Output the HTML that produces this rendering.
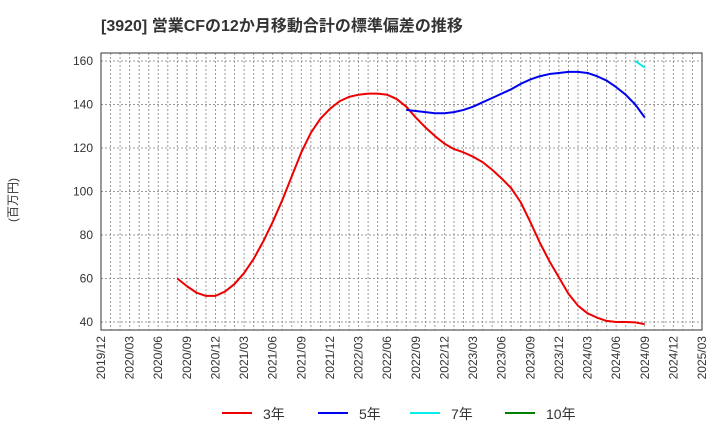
<!DOCTYPE html>
<html><head><meta charset="utf-8"><style>
body{margin:0;background:#fff;font-family:"Liberation Sans","Noto Sans CJK JP",sans-serif;}
</style></head><body>
<svg id="c" width="720" height="440" xmlns="http://www.w3.org/2000/svg">
<text x="101" y="31" font-size="16" font-weight="bold" fill="#333">[3920]  営業CFの12か月移動合計の標準偏差の推移</text>
<text transform="translate(17,200) rotate(-90)" font-size="12" fill="#333" text-anchor="middle">(百万円)</text>
<g id="grid"></g><g id="axes"></g><g id="series"></g><g id="legend"></g>
</svg>
<script>
const yTicks=[40,60,80,100,120,140,160];
const xTickLabels=["2019/12","2020/03","2020/06","2020/09","2020/12","2021/03","2021/06","2021/09","2021/12","2022/03","2022/06","2022/09","2022/12","2023/03","2023/06","2023/09","2023/12","2024/03","2024/06","2024/09","2024/12","2025/03"];
const s3Start=8;
const s3=[60,56.5,53.5,52,52,54,57.5,62.5,69,77,86,96,107,118,127,133.5,138,141.5,143.5,144.5,145,145,144.5,142.5,139,134,129.5,125.5,122,119.5,118,116,113.5,110,106,101.5,95,86,76.5,68,60.5,53,47.5,44,42,40.5,40,40,39.8,39];
const s5Start=32;
const s5=[137.5,137,136.5,136,136,136.5,137.5,139,141,143,145,147,149.5,151.5,153,154,154.5,155,155,154.5,153,151,148,144.5,140,134];
const s7Start=56;
const s7=[160,157];
const s10=[];
const L=101,R=702,T=53,B=330;
const X=m=>L+m*(R-L)/63;
const Y=v=>322-(v-40)*(261/120);
const NS="http://www.w3.org/2000/svg";
function mk(p,t,a){const e=document.createElementNS(NS,t);for(const k in a)e.setAttribute(k,a[k]);document.getElementById(p).appendChild(e);return e;}
for(let m=1;m<63;m++){const e=mk('grid','line',{x1:X(m),x2:X(m),y1:T,y2:B,stroke:'#999','stroke-dasharray':'2,2','stroke-width':1});

}
yTicks.forEach(v=>{const e=mk('grid','line',{x1:L,x2:R,y1:Y(v),y2:Y(v),stroke:'#999','stroke-dasharray':'2,2','stroke-width':1});


const t=mk('axes','text',{x:L-8,y:Y(v)+4,'font-size':12,fill:'#333','text-anchor':'end'});t.textContent=v;

});
xTickLabels.forEach((s,i)=>{const x=X(i*3);const t=mk('axes','text',{transform:`translate(${x+4},${B+6}) rotate(-90)`,'font-size':12,fill:'#333','text-anchor':'end'});t.textContent=s;

});
const fr=mk('axes','rect',{x:L,y:T,width:R-L,height:B-T,fill:'none',stroke:'#333','stroke-width':1});


function line(d,st,c,n){if(!d.length)return;const p=mk('series','polyline',{points:d.map((v,i)=>X(st+i)+','+Y(v)).join(' '),fill:'none',stroke:c,'stroke-width':2,'stroke-linejoin':'round'});

}
line(s3,s3Start,'#ee0000','series-3y');line(s5,s5Start,'#0000ee','series-5y');line(s7,s7Start,'#00eeee','series-7y');line(s10,0,'#008000','series-10y');
[['3年','#ee0000',222],['5年','#0000ee',318],['7年','#00eeee',410],['10年','#008000',505]].forEach(([n,c,x])=>{
const g=mk('legend','g',{});


const l=document.createElementNS(NS,'line');l.setAttribute('x1',x);l.setAttribute('x2',x+30);l.setAttribute('y1',413);l.setAttribute('y2',413);l.setAttribute('stroke',c);l.setAttribute('stroke-width',2);g.appendChild(l);
const t=document.createElementNS(NS,'text');t.setAttribute('x',x+41);t.setAttribute('y',419);t.setAttribute('font-size',14);t.setAttribute('fill','#333');t.textContent=n;g.appendChild(t);});
</script>
</body></html>
